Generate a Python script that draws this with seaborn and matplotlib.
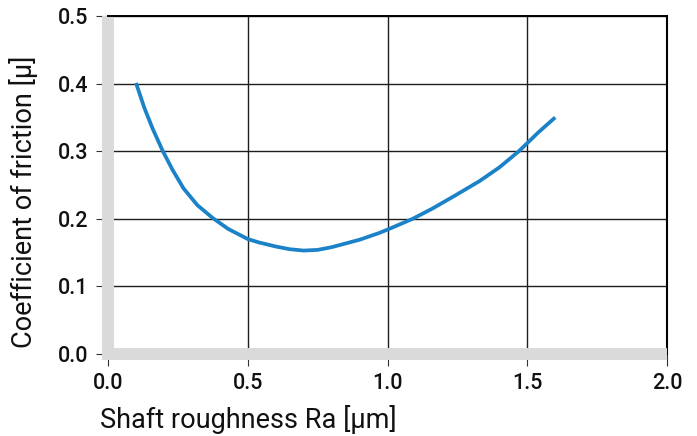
import matplotlib
matplotlib.use("Agg")
import matplotlib.pyplot as plt
import seaborn as sns
import pandas as pd

# Data
roughness = [0.10, 0.13, 0.16, 0.195, 0.23, 0.27, 0.32, 0.375, 0.43, 0.50,
             0.54, 0.60, 0.65, 0.70, 0.75, 0.80, 0.90, 0.97, 1.00, 1.09,
             1.16, 1.24, 1.33, 1.40, 1.47, 1.50, 1.54, 1.60]
friction = [0.401, 0.364, 0.333, 0.301, 0.273, 0.245, 0.220, 0.201, 0.185, 0.170,
            0.165, 0.159, 0.155, 0.153, 0.154, 0.158, 0.169, 0.179, 0.184, 0.200,
            0.215, 0.234, 0.256, 0.276, 0.300, 0.312, 0.328, 0.350]
x_ticks = [0.0, 0.5, 1.0, 1.5, 2.0]
y_ticks = [0.0, 0.1, 0.2, 0.3, 0.4, 0.5]
x_label = "Shaft roughness Ra [µm]"
y_label = "Coefficient of friction [µ]"

df = pd.DataFrame({"x": roughness, "y": friction})

sns.set_theme(style="whitegrid")
plt.rcParams["font.family"] = ["Roboto", "DejaVu Sans"]
plt.rcParams["font.weight"] = "medium"

fig = plt.figure(figsize=(6.97, 4.36), dpi=100)
ax = fig.add_axes([0.1550, 0.1881, 0.8020, 0.7752])

sns.lineplot(data=df, x="x", y="y", ax=ax, color="#1b82c8", linewidth=2.7,
             solid_capstyle="butt", solid_joinstyle="round", sort=False)

ax.set_xlim(0, 2.0)
ax.set_ylim(0, 0.5)
ax.set_xticks(x_ticks)
ax.set_yticks(y_ticks)
ax.set_xticklabels([f"{v:.1f}" for v in x_ticks])
ax.set_yticklabels([f"{v:.1f}" for v in y_ticks])

ax.grid(True, color="#1e1e1e", linewidth=1.0)
ax.set_axisbelow(True)

gray = "#d9dad9"
for side in ["left", "bottom"]:
    sp = ax.spines[side]
    sp.set_visible(True)
    sp.set_color(gray)
    sp.set_linewidth(8.6)
    sp.set_capstyle("butt")
ax.spines["left"].set_bounds(-0.0089, 0.5)
ax.spines["top"].set_color("black")
ax.spines["top"].set_linewidth(1.4)
ax.spines["right"].set_color("black")
ax.spines["right"].set_linewidth(1.5)

ax.tick_params(axis="both", which="major", direction="out", length=8.5,
               width=0.8, color="#333333", bottom=True, left=True)
ax.tick_params(axis="y", labelsize=15.5, pad=6, labelcolor="#111111")
ax.tick_params(axis="x", labelsize=15.5, pad=5, labelcolor="#111111")

ax.set_xlabel(x_label, fontsize=19.5, color="#111111", ha="left", va="baseline")
ax.xaxis.set_label_coords(-0.014, -0.220)
ax.set_ylabel(y_label, fontsize=19.5, color="#111111", va="center")
ax.yaxis.set_label_coords(-0.152, 0.45)

fig.savefig("out.png", dpi=100)
